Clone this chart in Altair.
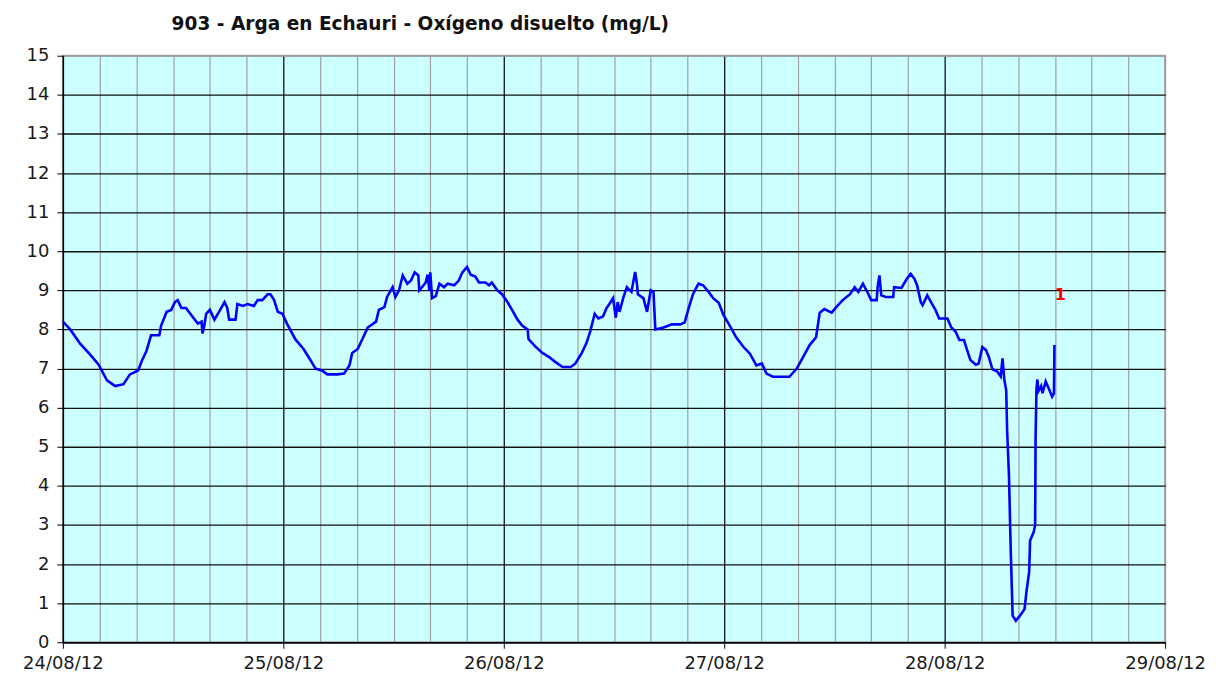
import json
import altair as alt
import pandas as pd

# hours since 24/08/12 00:00
hours = [
    0.0, 0.8, 1.9, 3.0, 3.9, 4.8, 5.7, 6.6, 7.3, 8.2, 8.6, 9.1, 9.6, 10.5, 10.7,
    11.3, 11.8, 12.2, 12.5, 12.9, 13.4, 14.2, 14.7, 15.1, 15.2, 15.4, 15.6, 16.0,
    16.5, 17.0, 17.6, 17.9, 18.1, 18.8, 19.0, 19.6, 20.1, 20.8, 21.2, 21.7, 22.3,
    22.6, 23.0, 23.4, 23.9, 24.4, 25.3, 26.2, 27.0, 27.5, 28.2, 28.8, 29.9,
    30.6, 31.2, 31.5, 32.1, 32.6, 33.2, 33.5, 34.1, 34.4, 35.0, 35.3, 35.9, 36.2,
    36.6, 37.0, 37.5, 37.9, 38.3, 38.7, 38.8, 39.1, 39.5, 39.7, 39.9, 40.0, 40.2,
    40.6, 41.0, 41.5, 41.9, 42.6, 43.1, 43.5, 44.0, 44.4, 44.9, 45.3, 46.0, 46.4,
    46.7, 47.3, 47.8, 48.4, 48.9, 49.5, 50.0, 50.6, 50.7, 51.5, 52.2, 52.9, 53.6,
    54.4, 55.3, 55.8,
    56.5, 57.0, 57.4, 57.9, 58.3, 58.8, 59.2, 59.5, 59.9, 60.2, 60.4, 60.6, 61.0,
    61.4, 61.9, 62.3, 62.5, 62.6, 63.2, 63.6, 64.0, 64.3, 64.5, 65.4, 66.3, 67.2,
    67.7, 68.1, 68.6, 69.2, 69.7, 70.3, 70.8, 71.4, 71.9, 72.6, 73.3, 74.1, 74.8,
    75.5, 76.1, 76.6, 77.3, 79.1, 79.9, 80.6, 81.3, 82.0, 82.4, 82.9, 83.7, 84.2,
    84.9, 85.7, 86.2, 86.6, 87.1, 87.7, 88.0, 88.6, 88.7, 88.9, 89.1, 89.6, 90.4,
    90.5, 91.3, 91.9, 92.3, 92.7, 93.0, 93.4, 93.6, 94.1, 94.7, 95.0, 95.4, 96.3,
    96.7, 97.2, 97.6, 98.1, 98.5, 98.8, 99.4, 99.7, 100.1, 100.5, 100.8, 101.2,
    101.7, 102.1, 102.3, 102.5, 102.7, 102.8, 103.0, 103.2, 103.4, 103.75, 104.2,
    104.7, 104.9, 105.2, 105.3, 105.7, 105.85, 105.9, 106.0, 106.1, 106.2, 106.5,
    106.65, 107.0, 107.4, 107.7, 107.9, 107.95,
]
oxygen = [
    8.2, 8.0, 7.63, 7.35, 7.1, 6.7, 6.55, 6.6, 6.85, 6.95, 7.2, 7.45, 7.85, 7.85, 8.1,
    8.45, 8.5, 8.7, 8.75, 8.55, 8.55, 8.3, 8.15, 8.2, 7.9, 8.1, 8.4, 8.5,
    8.25, 8.45, 8.7, 8.55, 8.25, 8.25, 8.65, 8.6, 8.65, 8.6, 8.75, 8.75, 8.9,
    8.9, 8.75, 8.45, 8.4, 8.15, 7.75, 7.5, 7.2, 7.0, 6.95, 6.85, 6.85,
    6.87, 7.08, 7.4, 7.5, 7.75, 8.05, 8.1, 8.2, 8.5, 8.57, 8.83, 9.08, 8.83,
    9.0, 9.38, 9.17, 9.25, 9.46, 9.38, 9.0, 9.08, 9.2, 9.4, 9.0, 9.46, 8.8,
    8.85, 9.17, 9.08, 9.17, 9.13, 9.25, 9.46, 9.6, 9.4, 9.35, 9.2, 9.2, 9.13,
    9.2, 9.0, 8.9, 8.7, 8.5, 8.25, 8.1, 8.0, 7.75, 7.55, 7.4, 7.3, 7.17,
    7.04, 7.04, 7.13,
    7.4, 7.65, 7.94, 8.4, 8.28, 8.33, 8.55, 8.65, 8.8, 8.3, 8.7, 8.45, 8.8,
    9.08, 8.96, 9.47, 9.17, 8.9, 8.8, 8.45, 9.0, 8.96, 8.0, 8.05, 8.13, 8.13,
    8.18, 8.52, 8.9, 9.17, 9.13, 8.96, 8.8, 8.68, 8.38, 8.1, 7.8, 7.55, 7.38,
    7.08, 7.13, 6.87, 6.79, 6.79, 7.0, 7.3, 7.6, 7.8, 8.43, 8.52, 8.43, 8.57,
    8.75, 8.9, 9.08, 8.96, 9.17, 8.9, 8.75, 8.75, 9.08, 9.38, 8.87, 8.83, 8.83,
    9.08, 9.06, 9.3, 9.42, 9.3, 9.13, 8.7, 8.62, 8.87, 8.62, 8.5, 8.28, 8.28,
    8.06, 7.94, 7.73, 7.73, 7.43, 7.22, 7.1, 7.13, 7.55, 7.47, 7.3, 6.98,
    6.93, 6.8, 7.26, 6.7, 6.45, 5.43, 4.27, 2.3, 0.68, 0.55, 0.68,
    0.85, 1.28, 1.8, 2.6, 2.82, 3.0, 5.25, 6.5, 6.72, 6.42, 6.55,
    6.37, 6.67, 6.45, 6.28, 6.37, 7.6,
]

day_labels = ["24/08/12", "25/08/12", "26/08/12", "27/08/12", "28/08/12", "29/08/12"]
x_ticks = list(range(0, 121, 4))
y_ticks = list(range(0, 16))

marker_hour = [108.6]
marker_value = [8.88]
marker_text = ["1"]

df = pd.DataFrame({"h": hours, "v": oxygen})
mk = pd.DataFrame({"h": marker_hour, "v": marker_value, "t": marker_text})

FONT = "DejaVu Sans"

label_expr = "datum.value % 24 === 0 ? " + json.dumps(day_labels) + "[datum.value / 24] : ''"

x_scale = alt.Scale(domain=[0, 120], nice=False, zero=False)
y_scale = alt.Scale(domain=[0, 15], nice=False)

x_axis = alt.Axis(
    title=None,
    values=x_ticks,
    tickCount=len(x_ticks),
    labelExpr=label_expr,
    labelFont=FONT,
    labelFontSize=18,
    labelColor="#1a1a1a",
    labelPadding=6,
    labelOverlap=False,
    labelFlush=False,
    domainColor="black",
    domainWidth=1.5,
    tickColor="black",
    tickSize=6,
    tickOpacity={"condition": {"test": "datum.value % 24 === 0", "value": 1}, "value": 0},
    grid=True,
    gridColor={
        "condition": {"test": "datum.value % 24 === 0 && datum.value > 0 && datum.value < 120", "value": "#000000"},
        "value": "#a0a0a0",
    },
    gridWidth=1.2,
)

y_axis = alt.Axis(
    title=None,
    values=y_ticks,
    tickCount=len(y_ticks),
    labelFont=FONT,
    labelFontSize=18,
    labelColor="#1a1a1a",
    labelPadding=8,
    labelOverlap=False,
    labelFlush=False,
    domainColor="black",
    domainWidth=1.5,
    tickColor="black",
    tickSize=6,
    grid=True,
    gridColor={"condition": {"test": "datum.value === 15", "value": "#a0a0a0"}, "value": "#111111"},
    gridWidth=1.3,
)

line = alt.Chart(df).mark_line(color="#0000ff", strokeWidth=2.6, interpolate="linear").encode(
    x=alt.X("h:Q", scale=x_scale, axis=x_axis),
    y=alt.Y("v:Q", scale=y_scale, axis=y_axis),
)

marker = alt.Chart(mk).mark_text(
    color="#ff0000", font=FONT, fontSize=16, fontWeight="bold", baseline="middle", align="center"
).encode(
    x=alt.X("h:Q", scale=x_scale),
    y=alt.Y("v:Q", scale=y_scale),
    text="t:N",
)

chart = (
    alt.layer(line, marker)
    .properties(
        width=1105,
        height=588,
        background="white",
        autosize=alt.AutoSizeParams(type="none"),
        padding={"left": 55, "top": 47, "right": 44, "bottom": 34},
        title=alt.TitleParams(
            text="903 - Arga en Echauri - Oxígeno disuelto (mg/L)",
            anchor="start",
            frame="group",
            dx=109,
            offset=13,
            font=FONT,
            fontSize=18.6,
            fontWeight="bold",
            color="#111111",
        ),
    )
    .configure_view(fill="#ccffff", stroke="#a0a0a0", strokeWidth=2)
)

chart.save("out.html", embed_options={"renderer": "svg", "actions": False})
